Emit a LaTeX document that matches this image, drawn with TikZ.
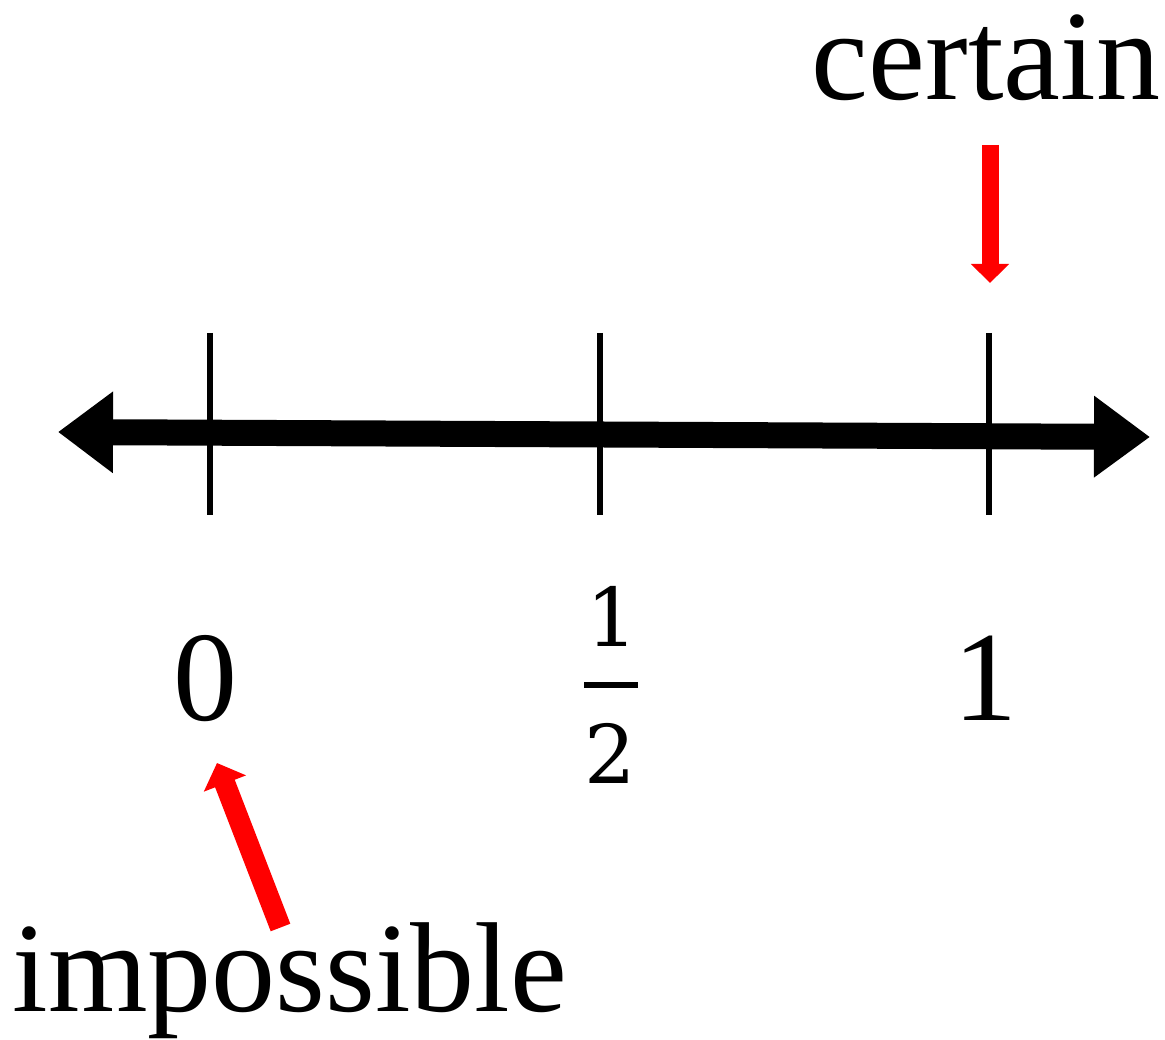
\documentclass[tikz,border=0pt]{standalone}
\usepackage{fontspec}
\setmainfont{Liberation Serif}
\newfontfamily\fracfont{DejaVu Serif}
\usetikzlibrary{arrows.meta}
\begin{document}
\begin{tikzpicture}[x=1pt,y=-1pt,
  bigtext/.style={inner sep=0pt, anchor=base, font=\fontsize{128}{150}\selectfont},
  fractext/.style={inner sep=0pt, anchor=base, font=\fracfont\fontsize{81}{95}\selectfont},
  tickmark/.style={line width=6pt},
  axisline/.style={line width=26pt, {Triangle[length=55pt,width=78pt]}-{Triangle[length=56pt,width=78pt]}},
  downarrow/.style={red, line width=17pt, -{Triangle[length=19pt,width=37pt]}},
  uparrow/.style={red, line width=21pt, -{Triangle[length=22pt,width=44pt]}}
]
\useasboundingbox (0,0) rectangle (1165,1040);
% axis
\coordinate (axL) at (58,432);
\coordinate (axR) at (1150,437);
\draw[axisline] (axL) -- (axR);
% ticks
\coordinate (t0a) at (210,333); \coordinate (t0b) at (210,515);
\coordinate (t1a) at (600,333); \coordinate (t1b) at (600,515);
\coordinate (t2a) at (989,333); \coordinate (t2b) at (989,515);
\draw[tickmark] (t0a) -- (t0b);
\draw[tickmark] (t1a) -- (t1b);
\draw[tickmark] (t2a) -- (t2b);
% labels
\node[bigtext] (zero) at (205,720) {0};
\node[bigtext] (one) at (985,720) {1};
\node[fractext] (num) at (612,646) {1};
\node[fractext] (den) at (610,783) {2};
\fill (584,682) rectangle (638,688);
\node[bigtext] (certain) at (986,100) {certain};
\node[bigtext] (impossible) at (290,1011) {impossible};
% red arrows
\coordinate (cA) at (990,145);
\coordinate (cB) at (990,283);
\draw[downarrow] (cA) -- (cB);
\coordinate (iA) at (280.5,927.5);
\coordinate (iB) at (217,763);
\draw[uparrow] (iA) -- (iB);
\end{tikzpicture}
\end{document}
